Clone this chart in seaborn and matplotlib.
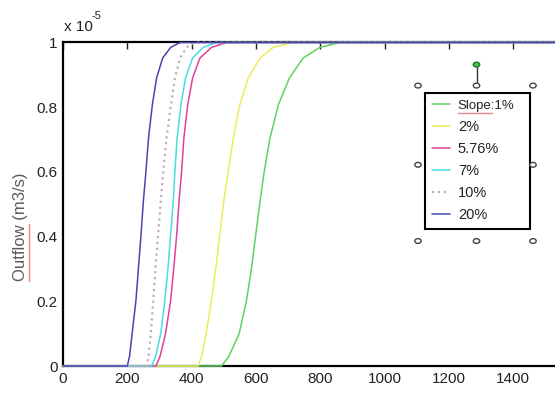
import matplotlib
matplotlib.use('Agg')
import matplotlib.pyplot as plt
import numpy as np
import seaborn as sns
from matplotlib.lines import Line2D
from matplotlib.patches import Circle

sns.set_style('white')
plt.rcParams['font.family'] = ['Liberation Sans', 'DejaVu Sans']

# outflow levels (x 1e-5 m3/s) and the times (s) each slope reaches them
outflow_levels = [0, 0, 0.03, 0.10, 0.204, 0.307, 0.41, 0.51, 0.602, 0.705, 0.808, 0.89, 0.952, 0.985, 1.0, 1.0]
t_slope_1 = [0, 493, 516, 548, 571, 587, 600, 613, 626, 644, 670, 704, 747, 799, 862, 1600]
t_slope_2 = [0, 420, 431, 445, 462, 476, 488, 500, 514, 530, 550, 576, 613, 654, 715, 1600]
t_slope_576 = [0, 289, 302, 319, 335, 345, 354, 361, 369, 376, 388, 403, 426, 462, 509, 1600]
t_slope_7 = [0, 276, 288, 304, 317, 327, 335, 343, 348, 355, 367, 381, 403, 436, 478, 1600]
t_slope_10 = [0, 260, 266, 273, 281, 288, 296, 304, 312, 322, 336, 348, 364, 385, 410, 1600]
t_slope_20 = [0, 200, 207, 215, 227, 235, 243, 250, 258, 266, 278, 291, 310, 335, 364, 1600]

labels = ['Slope:1%', '2%', '5.76%', '7%', '10%', '20%']
series = [t_slope_1, t_slope_2, t_slope_576, t_slope_7, t_slope_10, t_slope_20]
colors = ['#5fd35f', '#ecec5a', '#e0409c', '#48dde6', '#c9a9ba', '#4646ae']
styles = ['-', '-', '-', '-', ':', '-']

W, H = 555, 412
fig = plt.figure(figsize=(W / 100, H / 100), dpi=100)
x0, x1, ytop, ybot = 63, 577.4, 42.5, 366
ax = fig.add_axes([x0 / W, (H - ybot) / H, (x1 - x0) / W, (ybot - ytop) / H])

for t, lab, c, ls in zip(series, labels, colors, styles):
    sns.lineplot(x=t, y=outflow_levels, ax=ax, color=c, linestyle=ls,
                 lw=1.6 if ls == ':' else 1.1, label=lab, clip_on=False, zorder=3)

ax.set_xlim(0, 1600)
ax.set_ylim(0, 1)
ax.set_xticks(np.arange(0, 1401, 200))
ax.set_yticks([0, 0.2, 0.4, 0.6, 0.8, 1])
ax.set_yticklabels(['0', '0.2', '0.4', '0.6', '0.8', '1'])
ax.tick_params(direction='in', top=True, right=True, length=5, width=1,
               labelsize=11, colors='#222222', pad=4)
for s in ax.spines.values():
    s.set_color('black')
    s.set_linewidth(1.6)

txt_col = '#222222'
ax.set_ylabel('Outflow (m3/s)', fontsize=12, color='#5a5a5a')
ax.yaxis.set_label_coords(-0.068, 0.43)
fig.text(64 / W, 1 - 27 / H, 'x 10', fontsize=11, color=txt_col, va='center', ha='left')
fig.text(92 / W, 1 - 16 / H, '-5', fontsize=8, color=txt_col, va='center', ha='left')

# legend box
lx, ly, lw_ = 425, 93, 105
leg = ax.legend(loc='upper left', bbox_to_anchor=(lx / W, 1 - ly / H, lw_ / W, 0.001),
                bbox_transform=fig.transFigure, mode='expand', fontsize=10.5,
                handlelength=1.25, handletextpad=0.55, borderpad=0.45, labelspacing=0.55,
                borderaxespad=0, fancybox=False, framealpha=1, edgecolor='black')
leg.get_frame().set_linewidth(1.5)
leg.get_texts()[0].set_fontsize(9.5)
for tx in leg.get_texts():
    tx.set_color(txt_col)

fig.canvas.draw()
r = fig.canvas.get_renderer()
inv = fig.transFigure.inverted()

# spell-check underline under "Slope" and "Outflow"
tb = leg.get_texts()[0].get_window_extent(r)
(a0, b0), (a1, b1) = inv.transform([[tb.x0, tb.y0], [tb.x0 + 0.6 * tb.width, tb.y0]])
fig.add_artist(Line2D([a0, a1], [b0 - 0.002, b1 - 0.002], color='#e05050', lw=1, alpha=0.7))
yb = ax.yaxis.label.get_window_extent(r)
(c0, d0), (c1, d1) = inv.transform([[yb.x1, yb.y0], [yb.x1, yb.y0 + 0.53 * yb.height]])
fig.add_artist(Line2D([c0 + 0.002, c1 + 0.002], [d0, d1], color='#e05050', lw=1, alpha=0.7))

# selection handles around the legend box
lb = leg.get_window_extent(r)
hx = [lb.x0 - 7, (lb.x0 + lb.x1) / 2 - 1, lb.x1 + 3]
hy = [lb.y1 + 7, (lb.y0 + lb.y1) / 2 - 4, lb.y0 - 12]
for i, px in enumerate(hx):
    for j, py in enumerate(hy):
        if i == 1 and j == 1:
            continue
        fx, fy = inv.transform([px, py])
        fig.add_artist(Circle((fx, fy), 3.2 / W, transform=fig.transFigure,
                              facecolor='white', edgecolor='#444444', lw=1, zorder=10))
gx, gy0 = inv.transform([hx[1], hy[0] + 3])
_, gy1 = inv.transform([hx[1], hy[0] + 21])
fig.add_artist(Line2D([gx, gx], [gy0, gy1], color='#333333', lw=1, zorder=9))
fig.add_artist(Circle((gx, gy1), 3.2 / W, transform=fig.transFigure,
                      facecolor='#44cc44', edgecolor='#227722', lw=1, zorder=10))

fig.savefig('out.png', dpi=100)
